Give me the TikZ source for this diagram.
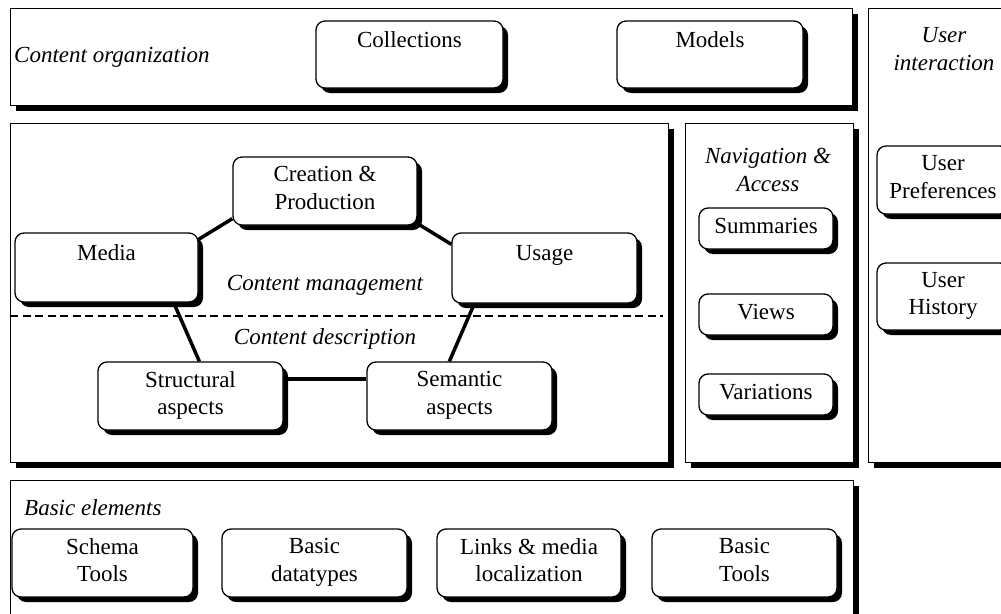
\documentclass[tikz,border=0pt]{standalone}
\usepackage{fontspec}
\setmainfont{Liberation Serif}
\usetikzlibrary{calc,shadows}
\pgfdeclarelayer{panels}
\pgfdeclarelayer{links}
\pgfsetlayers{panels,links,main}

\begin{document}
\begin{tikzpicture}[x=1pt,y=-1pt,
  every node/.style={font=\fontsize{23}{27.5}\selectfont},
  blackshadow/.style={drop shadow={opacity=1,fill=black,shadow xshift=5pt,shadow yshift=-5pt}},
  panel/.style={draw=black,line width=1.3pt,fill=white,blackshadow,rectangle,
                inner sep=0pt,anchor=north west},
  box/.style={draw=black,line width=1.3pt,fill=white,rounded corners=9pt,blackshadow,
              align=center,inner sep=0pt,text depth=6pt},
  toptext/.style={text height=15pt,text depth=30pt},
  itl/.style={font=\fontsize{23}{27.5}\selectfont\itshape,inner sep=0pt},
  link/.style={line width=3.5pt},
  divider/.style={line width=1.4pt,dash pattern=on 8pt off 4.5pt}]

\useasboundingbox (0,0) rectangle (1001,613);
\clip (0,0) rectangle (1001,613);

% layer panels
\begin{pgfonlayer}{panels}
  \node[panel,minimum width=842pt,minimum height=97pt]  (org)  at (10,8)   {};
  \node[panel,minimum width=150pt,minimum height=454pt] (user) at (868,8)  {};
  \node[panel,minimum width=658pt,minimum height=339pt] (mgmt) at (10,123) {};
  \node[panel,minimum width=168pt,minimum height=339pt] (nav)  at (685,123) {};
  \node[panel,minimum width=843pt,minimum height=150pt] (base) at (10,480) {};
\end{pgfonlayer}

% panel titles
\node[itl,anchor=west] (orgt) at (14,57) {Content organization};
\node[itl,align=center] (usert) at (944,49) {User\\interaction};
\node[itl] (cmt) at (325,285) {Content management};
\node[itl] (cdt) at (325,339) {Content description};
\node[itl,align=center] (navt) at (768,170) {Navigation \&\\Access};
\node[itl,anchor=west] (baset) at (24,508) {Basic elements};

% content organization
\node[box,toptext,minimum width=187pt,minimum height=67pt] (coll)   at (409.5,54.5) {Collections};
\node[box,toptext,minimum width=186pt,minimum height=67pt] (models) at (710,54.5)   {Models};

% content management / description
\node[box,minimum width=184pt,minimum height=68pt] (cre) at (325,191) {Creation \&\\Production};
\node[box,toptext,minimum width=183pt,minimum height=69pt] (media) at (106.5,267.5) {Media};
\node[box,toptext,minimum width=185pt,minimum height=70pt] (usage) at (544.5,268) {Usage};
\node[box,minimum width=185pt,minimum height=68pt] (struct) at (190.5,396) {Structural\\aspects};
\node[box,minimum width=185pt,minimum height=68pt] (sem)    at (459.5,396) {Semantic\\aspects};

% navigation & access
\node[box,minimum width=134pt,minimum height=41pt] (summ)  at (766,228.5) {Summaries};
\node[box,minimum width=134pt,minimum height=41pt] (views) at (766,314.5) {Views};
\node[box,minimum width=134pt,minimum height=41pt] (vari)  at (766,394.5) {Variations};

% user interaction
\node[box,minimum width=132pt,minimum height=68pt] (upref) at (943,180)   {User\\Preferences};
\node[box,minimum width=132pt,minimum height=67pt] (uhist) at (943,296.5) {User\\History};

% basic elements
\node[box,minimum width=181pt,minimum height=68pt] (schema) at (102.5,563) {Schema\\Tools};
\node[box,minimum width=185pt,minimum height=68pt] (dtypes) at (314.5,563) {Basic\\datatypes};
\node[box,minimum width=184pt,minimum height=68pt] (links)  at (529,563)   {Links \& media\\localization};
\node[box,minimum width=185pt,minimum height=68pt] (btools) at (744.5,563) {Basic\\Tools};

% connectors and divider
\begin{pgfonlayer}{links}
  \draw[divider] (mgmt.west |- 0,316) -- (663,316);
  \draw[link] ($(media.north east)+(0,7)$) -- ($(cre.south west)+(0,-7)$);
  \draw[link] ($(cre.south east)+(0,-2)$) -- ($(usage.north west)+(0,12)$);
  \draw[link] ($(media.south east)+(-25,0)$) -- ($(struct.north west)+(102,0)$);
  \draw[link] ($(usage.south west)+(23,0)$) -- ($(sem.north west)+(83,0)$);
  \draw[link] ($(struct.east)+(0,-17)$) -- ($(sem.west)+(0,-17)$);
\end{pgfonlayer}

\end{tikzpicture}
\end{document}
